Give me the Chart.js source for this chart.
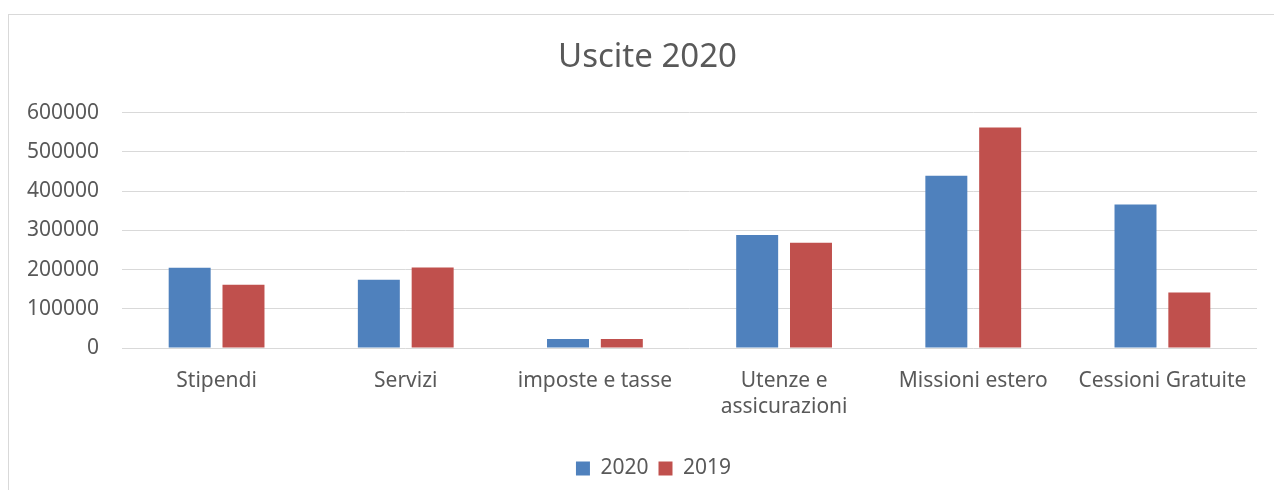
<!DOCTYPE html>
<html>
<head>
<meta charset="utf-8">
<script src="https://cdn.jsdelivr.net/npm/chart.js@4"></script>
<style>
  html, body { margin: 0; padding: 0; background: #fff; overflow: hidden; }
  #frame { position: absolute; left: 8px; top: 14px; width: 3000px; height: 3000px; border: 1px solid #d9d9d9; }
  #wrap { position: absolute; left: 0; top: 0; width: 1274px; height: 490px; }
</style>
</head>
<body>
<div id="frame"></div>
<div id="wrap"><canvas id="chart"></canvas></div>
<script>
// Dati del grafico
const categorie = ['Stipendi', 'Servizi', 'imposte e tasse', ['Utenze e', 'assicurazioni'], 'Missioni estero', 'Cessioni Gratuite'];
const uscite2020 = [204500, 174000, 23000, 288000, 439000, 366000];
const uscite2019 = [161500, 205500, 23000, 268000, 562000, 141500];
const serieLabels = ['2020', '2019'];
const yMin = 0, yMax = 600000, yStep = 100000;

const grigio = '#595959';
Chart.defaults.font.family = '"Noto Sans", sans-serif';
Chart.defaults.color = grigio;

// sposta titolo e legenda come nell'originale
const spostaBox = {
  id: 'spostaBox',
  afterLayout(chart) {
    chart.titleBlock.left += 6; chart.titleBlock.right += 6;
    chart.legend.left += 12; chart.legend.right += 12;
  }
};

const ctx = document.getElementById('chart').getContext('2d');
new Chart(ctx, {
  type: 'bar',
  data: {
    labels: categorie,
    datasets: [
      { label: serieLabels[0], data: uscite2020, backgroundColor: '#4f81bd' },
      { label: serieLabels[1], data: uscite2019, backgroundColor: '#c0504d' }
    ]
  },
  plugins: [spostaBox],
  options: {
    responsive: true,
    maintainAspectRatio: false,
    animation: false,
    categoryPercentage: 0.569,
    barPercentage: 0.78,
    layout: { padding: { top: 20, left: 26, right: 17, bottom: 1 } },
    plugins: {
      title: {
        display: true,
        text: 'Uscite 2020',
        color: grigio,
        font: { size: 33, weight: 'normal' },
        padding: { top: 18, bottom: 35 }
      },
      legend: {
        position: 'bottom',
        labels: { boxWidth: 14, boxHeight: 14, padding: 10, font: { size: 21 }, color: grigio }
      },
      tooltip: { enabled: false }
    },
    scales: {
      x: {
        grid: { display: false },
        border: { display: false },
        ticks: { padding: 12, font: { size: 21, lineHeight: 1.25 }, color: grigio, maxRotation: 0, autoSkip: false },
        afterFit: (s) => { s.height = 100; }
      },
      y: {
        min: yMin,
        max: yMax,
        grid: { color: '#d9d9d9', lineWidth: 1, drawTicks: false },
        border: { display: false },
        ticks: { stepSize: yStep, padding: 23, font: { size: 21 }, color: grigio, callback: (v) => String(v) },
        afterFit: (s) => { s.width = 96; }
      }
    }
  }
});
</script>
</body>
</html>
